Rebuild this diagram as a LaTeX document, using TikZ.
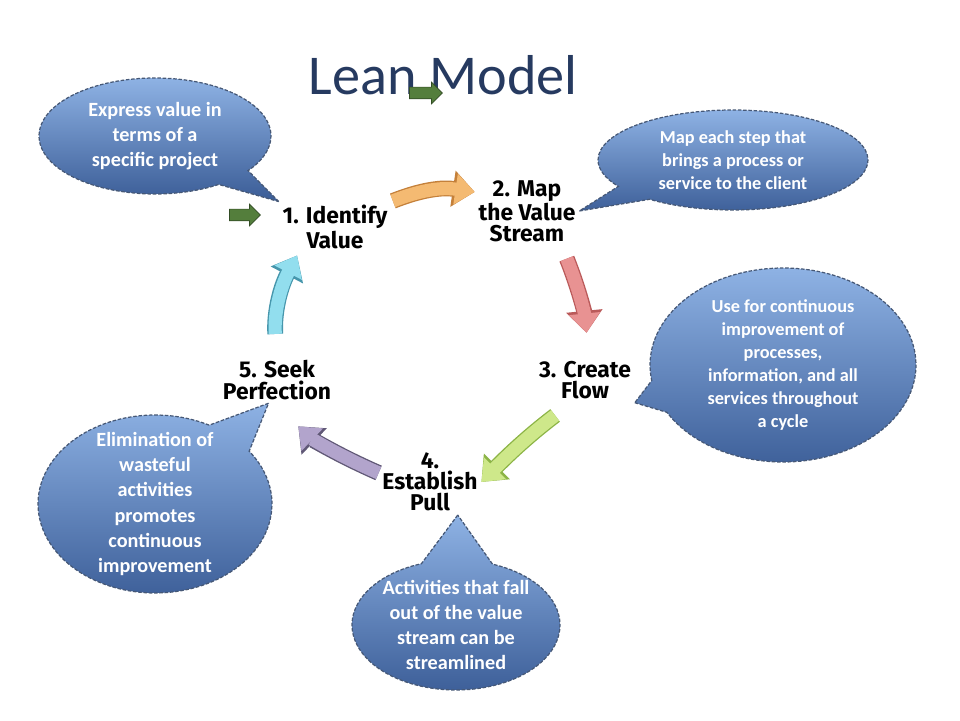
\documentclass[tikz,border=0pt]{standalone}
\usepackage{fontspec}
\setmainfont{Carlito}
\newfontfamily\stepfont{Fira Sans}
\usetikzlibrary{arrows.meta, shapes.callouts, shapes.arrows}
\definecolor{titleblue}{RGB}{38,58,96}
\definecolor{bubbletop}{RGB}{142,178,228}
\definecolor{bubblebottom}{RGB}{58,92,150}
\definecolor{bubbleedge}{RGB}{70,88,118}
\definecolor{leangreen}{RGB}{84,126,60}
\definecolor{arroworange}{RGB}{244,186,114}
\definecolor{arroworangeedge}{RGB}{196,128,58}
\definecolor{arrowpink}{RGB}{232,146,146}
\definecolor{arrowpinkedge}{RGB}{186,90,90}
\definecolor{arrowlime}{RGB}{206,232,138}
\definecolor{arrowlimeedge}{RGB}{140,180,70}
\definecolor{arrowlilac}{RGB}{178,164,204}
\definecolor{arrowlilacedge}{RGB}{96,88,118}
\definecolor{arrowcyan}{RGB}{146,222,238}
\definecolor{arrowcyanedge}{RGB}{70,150,172}

\tikzset{
  stepnode/.style={align=center, inner sep=2pt, font=\stepfont\bfseries\fontsize{13}{12}\selectfont},
  bubble/.style={ellipse callout, draw=bubbleedge, line width=0.7pt, dash pattern=on 2pt off 1pt,
    top color=bubbletop, bottom color=bubblebottom, callout pointer arc=20},
  bubbletext/.style={align=center, text=white, font=\bfseries\fontsize{11.5}{14.3}\selectfont},
  smalltext/.style={align=center, text=white, font=\bfseries\fontsize{10.4}{13}\selectfont},
  cyclearrow/.style 2 args={draw=#1, line width=7.5pt, -{Triangle[length=11pt,width=17pt]},
    preaction={draw=#2, line width=9pt, -{Triangle[length=12.5pt,width=20pt]}}},
  greenarrow/.style={single arrow, draw=leangreen!60!black, fill=leangreen, inner sep=0.11cm,
    minimum height=0.66cm, single arrow head extend=0.1cm, single arrow head indent=0pt},
}

\begin{document}
\begin{tikzpicture}[x=0.02cm, y=0.02cm]
    \fill[white] (0,0) rectangle (960,720);
    \useasboundingbox (0,0) rectangle (960,720);

    \node[font=\fontsize{32}{38}\selectfont, text=titleblue, anchor=base] (title) at (443,625) {Lean Model};
    \node[greenarrow] (titlearrow) at (423,627) {};
    \node[greenarrow, minimum height=0.62cm] (startarrow) at (242,505) {};

    % the five steps
    \node[stepnode] (s1) at (335,493) {1. Identify\\Value};
    \node[stepnode] (s2) at (527,509) {2. Map\\the Value\\Stream};
    \node[stepnode] (s3) at (585,340) {3. Create\\Flow};
    \node[stepnode] (s4) at (430,238) {4.\\Establish\\Pull};
    \node[stepnode] (s5) at (277,340) {5. Seek\\Perfection};

    \draw[cyclearrow={arroworange}{arroworangeedge}, shorten <=1pt] (s1.north east) to[bend left=15] (s2.160);
    \draw[cyclearrow={arrowpink}{arrowpinkedge}, shorten <=8pt, shorten >=14pt] (s2.-45) to[bend left=8] (s3.80);
    \draw[cyclearrow={arrowlime}{arrowlimeedge}, shorten <=12pt] (s3.-120) to[bend right=4] (s4.east);
    \draw[cyclearrow={arrowlilac}{arrowlilacedge}, shorten >=19pt] (s4.170) to[bend left=10] (s5.-97);
    \draw[cyclearrow={arrowcyan}{arrowcyanedge}, shorten <=13pt, shorten >=2pt] (s5.north) to[bend left=16] (s1.-145);

    % callouts
    \node[bubble, minimum width=4.64cm, minimum height=2.32cm, callout absolute pointer={(s1.north west)},
      label={[bubbletext]center:{Express value in\\terms of a\\specific project}}] (b1) at (155,584) {};
    \node[bubble, minimum width=5.4cm, minimum height=2cm, callout absolute pointer={(s2.east)},
      label={[smalltext]center:{Map each step that\\brings a process or\\service to the client}}] (b2) at (733,560) {};
    \node[bubble, minimum width=5.32cm, minimum height=3.88cm, callout absolute pointer={(s3.south east)},
      label={[smalltext]center:{Use for continuous\\improvement of\\processes,\\information, and all\\services throughout\\a cycle}}] (b3) at (783,355) {};
    \node[bubble, minimum width=4.16cm, minimum height=2.6cm, callout pointer arc=40, callout absolute pointer={(s4.-50)},
      label={[bubbletext]center:{Activities that fall\\out of the value\\stream can be\\streamlined}}] (b4) at (456,95) {};
    \node[bubble, minimum width=4.68cm, minimum height=3.56cm, callout pointer arc=26, callout absolute pointer={(s5.-110)},
      label={[bubbletext]center:{Elimination of\\wasteful\\activities\\promotes\\continuous\\improvement}}] (b5) at (155,216) {};
\end{tikzpicture}
\end{document}
